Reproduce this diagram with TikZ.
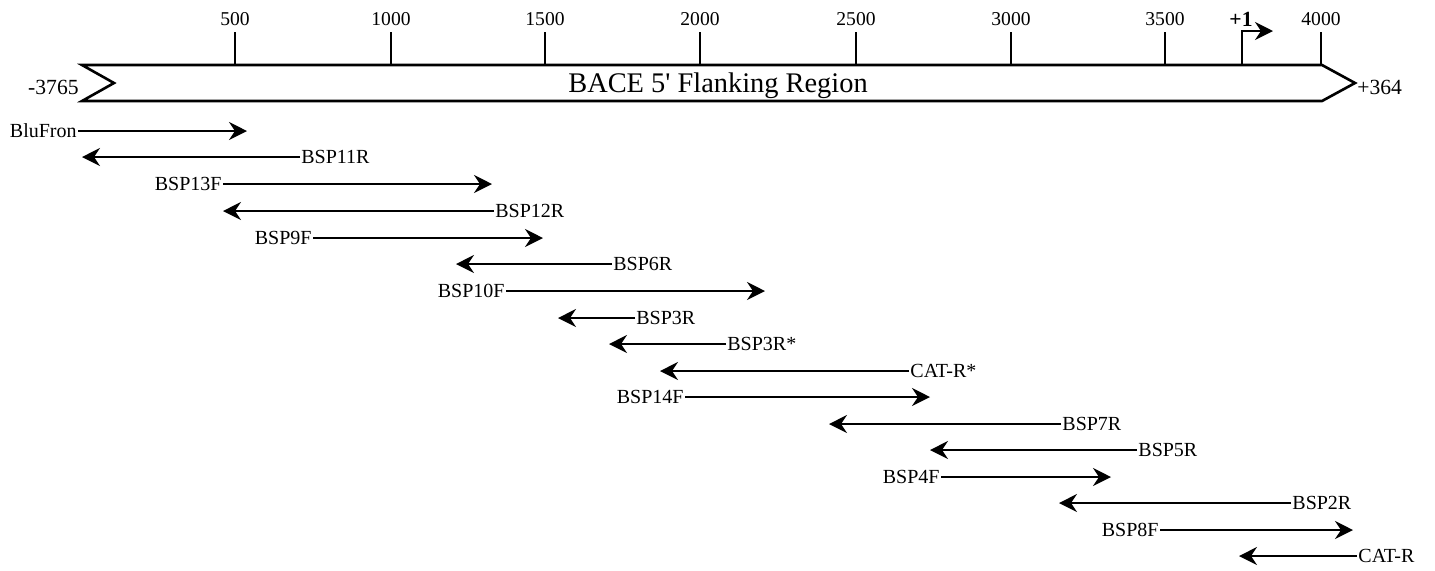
\documentclass[tikz,border=0pt]{standalone}
\usepackage{fontspec}
\setmainfont{Liberation Serif}
\usetikzlibrary{arrows.meta}
\begin{document}
\begin{tikzpicture}[x=0.5pt,y=-0.5pt,
  lbl/.style={font=\fontsize{10}{11}\selectfont, inner xsep=0.5pt, inner ysep=1pt},
  tick/.style={font=\fontsize{9.8}{11}\selectfont, inner sep=1pt},
  side/.style={font=\fontsize{10.8}{12}\selectfont, inner sep=0.5pt},
  tip/.style={-{Stealth[length=9pt,width=9pt,inset=3pt]}},
  prim/.style={line width=1pt, tip},
  bar/.style={line width=1.3pt, line join=miter}]
\useasboundingbox (0,0) rectangle (1435,570);
% main bar
\draw[bar] (82,65) -- (1322,65) -- (1355,83) -- (1322,101) -- (82,101) -- (114,83) -- cycle;
\node[font=\fontsize{14.2}{16}\selectfont] (title) at (718,86) {BACE 5\textquotesingle\ Flanking Region};
\node[side, anchor=east] (lft) at (80,87) {-3765};
\node[side, anchor=west] (rgt) at (1356,87) {+364};
% ticks
\foreach \x/\t [count=\i] in {235/500,391/1000,545/1500,700/2000,856/2500,1011/3000,1165/3500,1321/4000}{
  \node[tick] (t\i) at (\x,19) {\t};
  \draw[line width=1pt] (\x,32) -- (\x,65);
}
% +1 start site
\coordinate (s0) at (1242,65);
\coordinate (s1) at (1242,31);
\coordinate (s2) at (1273,31);
\draw[line width=1.2pt, tip] (s0) -- (s1) -- (s2);
\node[font=\fontsize{10.8}{12}\selectfont\bfseries, inner sep=1pt] (plus1) at (1241,19) {+1};
% forward primers
\foreach \name/\lx/\tx/\y [count=\i] in {
  BluFron/78/247/131,
  BSP13F/223/492/184,
  BSP9F/313/543/238,
  BSP10F/506/765/291,
  BSP14F/685/930/397,
  BSP4F/941/1111/477,
  BSP8F/1160/1353/530}{
  \node[lbl, anchor=east] (f\i) at (\lx,\y) {\name};
  \coordinate (ft\i) at (\tx,\y);
  \draw[prim] (f\i.east) -- (ft\i);
}
% reverse primers
\foreach \name/\lx/\tx/\y [count=\i] in {
  BSP11R/300/82/157,
  BSP12R/494/223/211,
  BSP6R/612/456/264,
  BSP3R/635/558/318,
  BSP3R*/726/609/344,
  CAT-R*/909/660/371,
  BSP7R/1061/829/424,
  BSP5R/1137/930/450,
  BSP2R/1291/1059/503,
  CAT-R/1357/1239/556}{
  \node[lbl, anchor=west] (r\i) at (\lx,\y) {\name};
  \coordinate (rt\i) at (\tx,\y);
  \draw[prim] (r\i.west) -- (rt\i);
}
\end{tikzpicture}
\end{document}
